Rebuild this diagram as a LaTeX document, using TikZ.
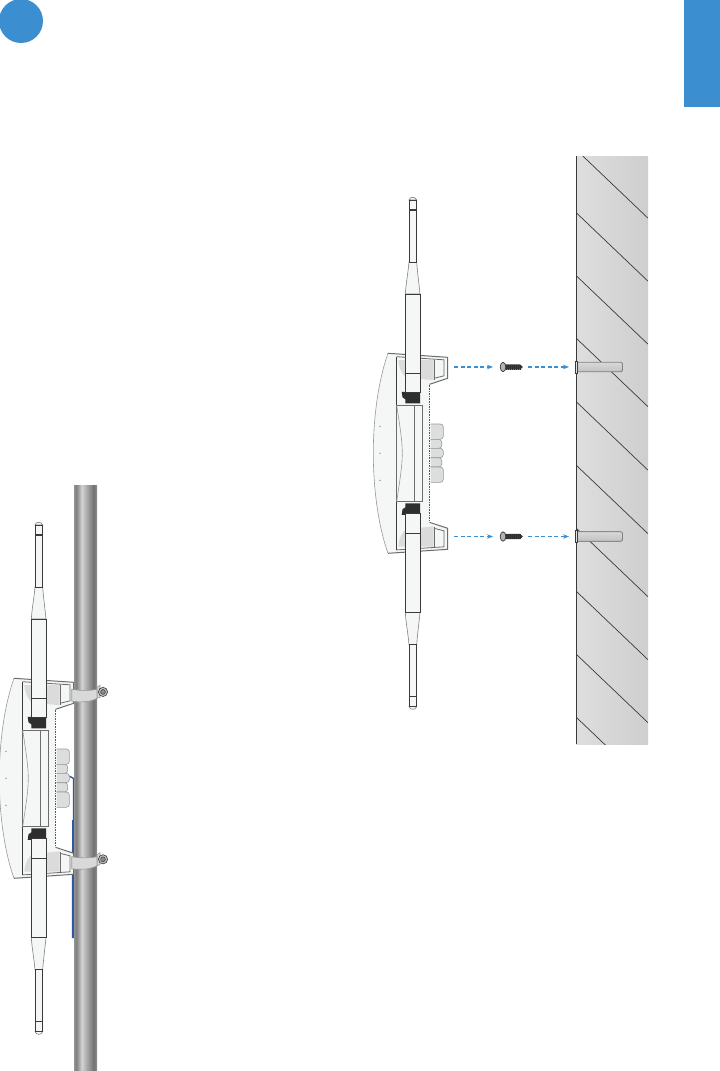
\documentclass[tikz,border=0pt]{standalone}
\usetikzlibrary{arrows.meta}
\definecolor{mBlue}{HTML}{3B8ED0}
\definecolor{mWire}{HTML}{2D56A8}
\definecolor{mBody}{HTML}{F5F6F6}
\definecolor{mGland}{HTML}{DCDDDD}
\definecolor{mLine}{HTML}{3A3A3A}
\pgfdeclarehorizontalshading{poleshade}{100bp}{
	color(0bp)=(mLine!50!white); color(25bp)=(mLine!55!white); color(30bp)=(mLine!65!white);
	color(42bp)=(mLine!22!white); color(50bp)=(mLine!38!white); color(68bp)=(mLine!72!white);
	color(75bp)=(mLine!55!white); color(100bp)=(mLine!55!white)}
\tikzset{
	thinline/.style={draw=mLine, line width=.85pt},
	boxline/.style={draw=gray!85!black, line width=.8pt},
	softline/.style={draw=gray!80, line width=.6pt},
	guide/.style={draw=mBlue, dashed, dash pattern=on 4pt off 2.5pt, -{Stealth[length=6pt,width=4.5pt]}},
}
\begin{document}
\begin{tikzpicture}[x=1pt, y=-1pt]
	\useasboundingbox (0,0) rectangle (720,1071);
	\node[circle, fill=mBlue, inner sep=0pt, minimum size=44pt] (badge) at (21,21) {};
	\node[rectangle, fill=mBlue, inner sep=0pt, minimum width=36pt, minimum height=107pt] (tab) at (702,53.5) {};

	% wall
	\shade[left color=black!13, right color=black!19] (576,156) rectangle (648,744);
	\begin{scope}
		\clip (576,156) rectangle (648,744);
		\foreach \y in {149.5, 212.5, 275.5, 338, 401.5, 465, 528, 591, 654, 717}
		{\draw[mLine, line width=.7pt] (576,\y) -- (648,\y+68.7);}
	\end{scope}
	\draw[mLine, line width=1pt] (576,156) -- (576,744);

	% wire behind the pole
	\draw[mWire, line width=1.4pt] (69.3,776) -- (73.5,778.5) -- (73.5,820);
	\draw[mWire, line width=1.9pt] (73,820) -- (72.8,938);

	% both units, each built from two mirrored halves
	\foreach \dx/\cy in {0/453.3, -374/778.3}{
		\foreach \s in {1,-1}{
			\begin{scope}[shift={(\dx,\cy)}, yscale=\s]
				\fill[mBody] (388,-100) -- (447.7,-96) -- (447.7,-75) -- (429.5,-69) -- (429.5,0) -- (373.3,0) .. controls (373.3,-38) and (379,-75) .. (388,-100) -- cycle;
				\draw[softline] (373.3,0) .. controls (373.3,-38) and (379,-75) .. (388,-100);
				\draw[boxline, line width=1pt] (388,-100) -- (447.7,-96) -- (447.7,-75) -- (429.5,-69);
				\draw[boxline] (396.7,-96.6) -- (444,-93.5) -- (444,-77.5) -- (434,-75);
				\fill[black!14] (398.3,-93.3) .. controls (399,-84) and (403,-78) .. (406,-76) -- (433.5,-73) -- (433.5,-93.3) -- cycle;
				\draw[boxline] (434,-93.3) -- (434,-73.5);
				\draw[thinline] (396.7,-96.6) -- (396.7,0);
				\draw[draw=gray!70!black, line width=.8pt, dash pattern=on 1.6pt off 1pt] (429.7,-68) -- (429.7,0);
				% antenna
				\filldraw[fill=mBody, draw=gray, line width=.6pt] (409,-191.3) .. controls (408,-180) and (406,-170) .. (405.3,-159.3) -- (420,-159.3) .. controls (419,-170) and (417.5,-180) .. (416.7,-191.3) -- cycle;
				\filldraw[fill=mBody, draw=gray, line width=.6pt] (409,-253.3) .. controls (410,-257) and (415.5,-257) .. (416.7,-253.3) -- cycle;
				\filldraw[thinline, fill=mBody] (409,-253.3) rectangle (416.7,-191.3);
				\draw[mLine, line width=1.4pt] (409,-243.3) -- (416.7,-243.3);
				\filldraw[thinline, fill=mBody] (405.3,-159.3) rectangle (420,-80);
				\fill[mLine!80!black] (401.7,-61.5) -- (420,-61.5) -- (420,-50) -- (405.3,-50) -- (405.3,-54) -- (402.5,-56) -- cycle;
				\filldraw[thinline, fill=mBody] (405.3,-80) rectangle (420.7,-60.6);
				% centre box
				\fill[mBody] (396.7,-48.3) rectangle (422.7,0);
				\draw[boxline] (396.7,0) -- (396.7,-48.3) -- (422.7,-48.3) -- (422.7,0);
				\draw[boxline] (414.3,-48.3) -- (414.3,0);
				\draw[softline] (396.7,-48.3) .. controls (399,-32) and (402.3,-14) .. (402.3,0);
			\end{scope}
		}
		\begin{scope}[shift={(\dx,\cy)}]
			\foreach \ya/\yb/\xr in {-29.3/-14/443.3, -14/-5/441.7, -5/4.4/443.3, 4.4/13.7/441.7, 13.7/29/443.3}
			{\filldraw[softline, fill=mGland, rounded corners=3pt] (430.5,\ya) -- (\xr,\ya) -- (\xr,\yb) -- (430.5,\yb);}
			\foreach \y in {-27,0,27}
			{\fill[gray] (380,\y) circle (.7pt);}
		\end{scope}
	}

	% pole and clamps
	\shade[shading=poleshade] (74,485) rectangle (97,1071);
	\foreach \y in {689.3, 856.7}{
		\filldraw[softline, fill=black!15] (97,\y-2) -- (100,\y-4) -- (100,\y+8) -- (97,\y+9) -- cycle;
		\filldraw[draw=mLine, line width=.6pt, fill=black!25] (103,\y+2.6) circle (4.6pt);
		\filldraw[draw=mLine, line width=.5pt, fill=black!45] (103,\y+2.6) circle (2.4pt);
		\filldraw[softline, fill=black!15] (71.7,\y) .. controls (80,\y+1.5) and (90,\y+1.5) .. (97,\y) -- (97,\y+9) .. controls (90,\y+13) and (80,\y+13) .. (71.7,\y+12) -- cycle;
	}

	% screws, anchors and guides
	\foreach \i/\y/\lw in {1/367/1.4pt, 2/536.5/.8pt}{
		\coordinate (start\i) at (454,\y);
		\coordinate (screwin\i) at (493,\y);
		\coordinate (screwout\i) at (528,\y);
		\coordinate (anchor\i) at (569,\y);
		\draw[guide, line width=\lw] (start\i) -- (screwin\i);
		\draw[guide, line width=\lw] (screwout\i) -- (anchor\i);
		\fill[mLine] (505,\y-2.6) -- (520,\y-2.6) -- (523,\y) -- (520,\y+2.6) -- (505,\y+2.6) -- cycle;
		\draw[mLine!80!black, line width=5pt, dash pattern=on 1.2pt off .8pt] (505.5,\y) -- (520,\y);
		\filldraw[draw=mLine, line width=.7pt, fill=black!30] (503,\y) ellipse (2.8pt and 4.7pt);
		\filldraw[draw=gray, line width=.8pt, top color=black!15, bottom color=black!24, rounded corners=2pt] (577.5,\y-4.8) -- (622.5,\y-4.8) -- (622.5,\y+4.8) -- (577.5,\y+4.8);
		\filldraw[draw=mLine, line width=.7pt, fill=black!10] (575,\y-6) rectangle (577.7,\y+6);
	}
\end{tikzpicture}
\end{document}
